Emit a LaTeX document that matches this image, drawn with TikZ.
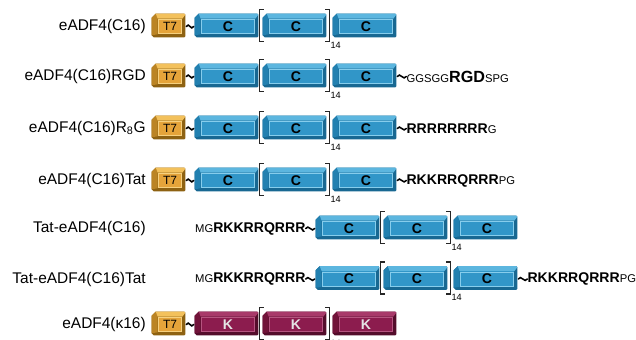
\documentclass[tikz,border=0pt]{standalone}
\usepackage{fontspec}
\setmainfont{Liberation Sans}
\usepackage{tikz}
\usetikzlibrary{calc, backgrounds}

\definecolor{bfront}{HTML}{3196C8}
\definecolor{btop}{HTML}{5CB6DF}
\definecolor{bside}{HTML}{2280B0}
\definecolor{bdark}{HTML}{186892}
\definecolor{blight}{HTML}{86CDEC}
\definecolor{gfront}{HTML}{E5A43A}
\definecolor{gtop}{HTML}{F3C15C}
\definecolor{gside}{HTML}{BB8424}
\definecolor{gdark}{HTML}{8E6212}
\definecolor{glight}{HTML}{F6D07E}
\definecolor{mfront}{HTML}{8C1C4E}
\definecolor{mtop}{HTML}{A83A6A}
\definecolor{mside}{HTML}{711339}
\definecolor{mdark}{HTML}{540D2B}
\definecolor{mlight}{HTML}{B5547F}
\definecolor{ktext}{HTML}{E4E4E4}

\tikzset{
  segface/.style={inner sep=0pt, minimum height=0.375cm, fill=#1front,
    font=\bfseries\fontsize{10}{10}\selectfont},
  lab/.style={anchor=east, inner sep=0pt, font=\fontsize{11}{13}\selectfont},
  seq/.style={inner sep=0pt, font=\fontsize{8}{10}\selectfont},
  rep/.style={inner sep=0pt, font=\fontsize{6.5}{7}\selectfont},
  brk/.style={line width=1.1pt, color=black!85},
  tilde/.style={line width=1.1pt, line cap=round,
    to path={.. controls +(2.7,-5) and +(-2.7,5) .. (\tikztotarget)}}
}

% one bevelled box: name, x, y, face width, colour, text
\newcommand\segbox[6]{%
  \node[segface=#5, minimum width=#4] (#1) at ({#2},{#3}) {#6};
  \begin{pgfonlayer}{background}
  \fill[#5dark] ($(#1.north west)+(-2,-5)$) -- ($(#1.north east)+(2,-5)$)
    -- ($(#1.north east)+(3,-4)$) -- ($(#1.south east)+(3,2)$)
    -- ($(#1.south east)+(2,3)$) -- ($(#1.south west)+(-4,3)$)
    -- ($(#1.south west)+(-6,1)$) -- ($(#1.north west)+(-6,-1)$) -- cycle;
  \fill[#5side] ($(#1.north west)+(-6,-1)$) -- ($(#1.north west)+(-2,-5)$)
    -- (#1.north west) -- (#1.south west) -- ($(#1.south west)+(-6,1)$) -- cycle;
  \fill[#5top] ($(#1.north west)+(-2,-5)$) -- ($(#1.north east)+(2,-5)$)
    -- ($(#1.north east)+(3,-4)$) -- (#1.north east) -- (#1.north west) -- cycle;
  \end{pgfonlayer}
  \draw[#5light, line width=0.4pt] ($(#1.north west)+(1,1)$) rectangle ($(#1.south east)+(-1,-1)$);
}

% three modules with the repeat brackets: row, x, y, colour, text
\newcommand\segrow[5]{%
  \segbox{#1a}{#2}{#3}{1.35cm}{#4}{#5}
  \segbox{#1b}{#2+68}{#3}{1.35cm}{#4}{#5}
  \segbox{#1c}{#2+138}{#3}{1.35cm}{#4}{#5}
  \draw[brk] ($(#1b.north west)+(-5,-9)$) -- ++(-4,0) -- ($(#1b.south west)+(-9,7)$) -- ++(4,0);
  \draw[brk] ($(#1b.north east)+(2,-9)$) -- ++(4,0) -- ($(#1b.south east)+(6,7)$) -- ++(-4,0);
  \node[rep, anchor=west] (#1n) at ($(#1b.south east)+(7,11)$) {14};
}

\begin{document}
\begin{tikzpicture}[x=0.025cm, y=-0.025cm]
  \useasboundingbox (0,0) rectangle (636,340);

  % eADF4(C16)
  \node[lab] (r1lab) at (146,26.5) {eADF4(C16)};
  \segbox{r1t}{170}{26.5}{0.6cm}{g}{\mdseries\fontsize{8.5}{9}\selectfont T7}
  \segrow{r1}{228}{26.5}{b}{C}
  \draw[tilde] ($(r1t.east)+(4,0)$) to ($(r1a.west)+(-7,0)$);

  % eADF4(C16)RGD
  \node[lab] (r2lab) at (146,76.5) {eADF4(C16)RGD};
  \segbox{r2t}{170}{76.5}{0.6cm}{g}{\mdseries\fontsize{8.5}{9}\selectfont T7}
  \segrow{r2}{228}{76.5}{b}{C}
  \draw[tilde] ($(r2t.east)+(4,0)$) to ($(r2a.west)+(-7,0)$);
  \node[seq, anchor=west] (r2s) at ($(r2c.east)+(13,0)$) {GGSGG{\fontsize{11.5}{12}\selectfont\bfseries RGD}SPG};
  \draw[tilde] ($(r2c.east)+(4,0)$) to (r2s.west);

  % eADF4(C16)R8G
  \node[lab] (r3lab) at (146,128.5) {eADF4(C16)R\textsubscript{8}G};
  \segbox{r3t}{170}{128.5}{0.6cm}{g}{\mdseries\fontsize{8.5}{9}\selectfont T7}
  \segrow{r3}{228}{128.5}{b}{C}
  \draw[tilde] ($(r3t.east)+(4,0)$) to ($(r3a.west)+(-7,0)$);
  \node[seq, anchor=west] (r3s) at ($(r3c.east)+(13,0)$) {{\fontsize{10}{12}\selectfont\bfseries RRRRRRRR}G};
  \draw[tilde] ($(r3c.east)+(4,0)$) to (r3s.west);

  % eADF4(C16)Tat
  \node[lab] (r4lab) at (146,180.5) {eADF4(C16)Tat};
  \segbox{r4t}{170}{180.5}{0.6cm}{g}{\mdseries\fontsize{8.5}{9}\selectfont T7}
  \segrow{r4}{228}{180.5}{b}{C}
  \draw[tilde] ($(r4t.east)+(4,0)$) to ($(r4a.west)+(-7,0)$);
  \node[seq, anchor=west] (r4s) at ($(r4c.east)+(13,0)$) {{\fontsize{10}{12}\selectfont\bfseries RKKRRQRRR}PG};
  \draw[tilde] ($(r4c.east)+(4,0)$) to (r4s.west);

  % Tat-eADF4(C16)
  \node[lab] (r5lab) at (146,228.5) {Tat-eADF4(C16)};
  \segrow{r5}{349}{228.5}{b}{C}
  \node[seq, anchor=east] (r5p) at ($(r5a.west)+(-16,0)$) {MG{\fontsize{10}{12}\selectfont\bfseries RKKRRQRRR}};
  \draw[tilde] (r5p.east) to ($(r5a.west)+(-7,0)$);

  % Tat-eADF4(C16)Tat
  \node[lab] (r6lab) at (146,279) {Tat-eADF4(C16)Tat};
  \segrow{r6}{349}{279}{b}{C}
  \node[seq, anchor=east] (r6p) at ($(r6a.west)+(-16,0)$) {MG{\fontsize{10}{12}\selectfont\bfseries RKKRRQRRR}};
  \draw[tilde] (r6p.east) to ($(r6a.west)+(-7,0)$);
  \node[seq, anchor=west] (r6s) at ($(r6c.east)+(13,0)$) {{\fontsize{10}{12}\selectfont\bfseries RKKRRQRRR}PG};
  \draw[tilde] ($(r6c.east)+(4,0)$) to (r6s.west);

  % eADF4(kappa16)
  \node[lab] (r7lab) at (146,324.5) {eADF4(κ16)};
  \segbox{r7t}{170}{324.5}{0.6cm}{g}{\mdseries\fontsize{8.5}{9}\selectfont T7}
  \segrow{r7}{228}{324.5}{m}{\textcolor{ktext}{K}}
  \draw[tilde] ($(r7t.east)+(4,0)$) to ($(r7a.west)+(-7,0)$);
\end{tikzpicture}
\end{document}
